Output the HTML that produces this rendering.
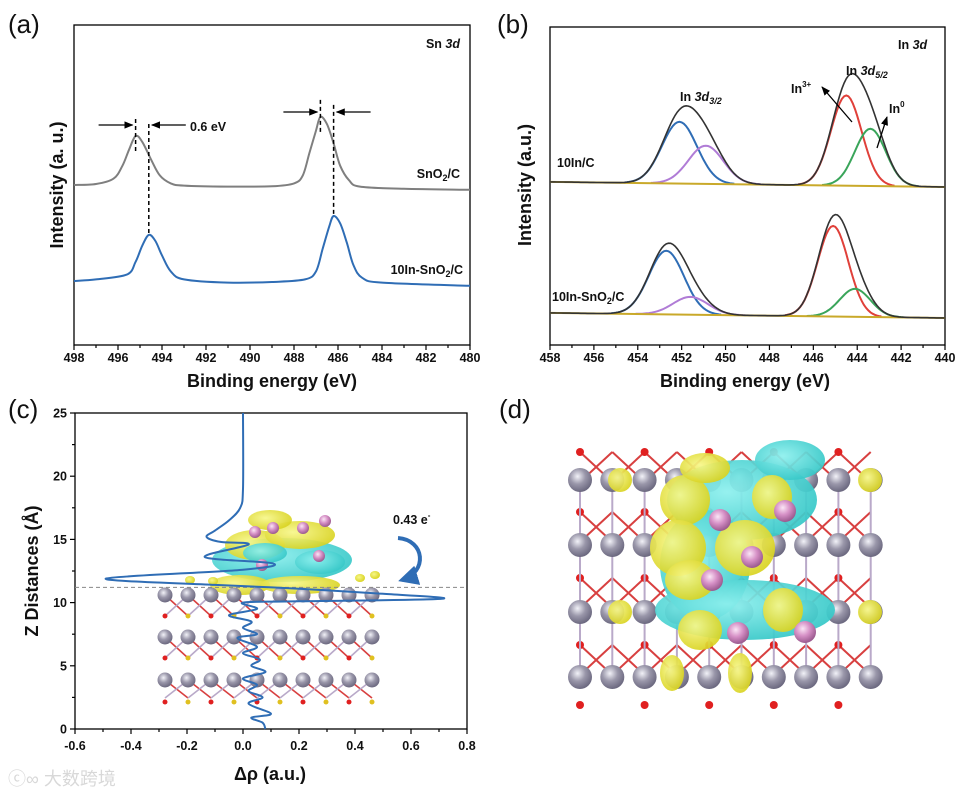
<!DOCTYPE html>
<html><head><meta charset="utf-8">
<style>
html,body{margin:0;padding:0;background:#fff;}
svg{display:block;font-family:"Liberation Sans",Arial,sans-serif;}
.tk{font-size:12.5px;font-weight:bold;fill:#111;}
.ttl{font-size:18px;font-weight:bold;fill:#111;}
.pl{font-size:26px;fill:#111;}
.an{font-size:12.5px;font-weight:bold;fill:#111;}
</style></head>
<body>
<svg id="fig" width="969" height="795" viewBox="0 0 969 795" xmlns="http://www.w3.org/2000/svg">
<defs>
<marker id="ah" viewBox="0 0 10 10" refX="9" refY="5" markerWidth="7" markerHeight="7" orient="auto"><path d="M0,1 L10,5 L0,9 Z" fill="#000"/></marker>
<marker id="ahb" viewBox="0 0 10 10" refX="8" refY="5" markerWidth="5" markerHeight="5" orient="auto"><path d="M0,0 L10,5 L0,10 Z" fill="#2f6db5"/></marker>
<radialGradient id="gAtom" cx="40%" cy="35%" r="65%"><stop offset="0" stop-color="#f2f2f8"/><stop offset="0.5" stop-color="#9a97aa"/><stop offset="1" stop-color="#6c6980"/></radialGradient>
<radialGradient id="pAtom" cx="40%" cy="35%" r="65%"><stop offset="0" stop-color="#fbe6f6"/><stop offset="0.5" stop-color="#d690c6"/><stop offset="1" stop-color="#9b5a8f"/></radialGradient>
<radialGradient id="cy" cx="40%" cy="40%" r="65%"><stop offset="0" stop-color="#8ef0ee"/><stop offset="1" stop-color="#35c7c7"/></radialGradient>
<radialGradient id="ye" cx="40%" cy="40%" r="65%"><stop offset="0" stop-color="#f7f78a"/><stop offset="1" stop-color="#d8d21e"/></radialGradient>
</defs>
<g id="pa"></g>
<g id="pb"></g>
<g id="pc"></g>
<g id="pd"></g>
<text x="8" y="785" style="font-size:18px;fill:#d8d8d8">ⓒ∞ 大数跨境</text>
</svg>
<script>
// ---------- Panel (a) data ----------
const aTicks = [498,496,494,492,490,488,486,484,482,480];
const aGrayE = [498,497,496.2,495.8,495.5,495.2,494.9,494.5,494.1,493.6,493,491,489,488,487.6,487.3,487,486.8,486.5,486.2,485.9,485.5,485,483,480];
const aGrayI = [50,50.3,52,56,61,65.3,63.5,58,53,50.5,49.8,49.5,49.6,50.5,53,60,67,71.3,69,63,56,51.5,49.5,48.8,48.5];
const aBlueE = [498,497,495.6,495.2,494.9,494.6,494.3,494,493.6,493,491,489,487.5,487,486.7,486.4,486.2,485.9,485.6,485.3,484.9,484,480];
const aBlueI = [20,20.5,22,26,31,34.4,32.5,28,23,20.5,19.5,19.7,20.5,23,30,37,40.3,38,32,25,21,19.5,18.5];
const aPeaksGray = [495.2,486.8];
const aPeaksBlue = [494.6,486.2];
// ---------- Panel (b) data ----------
const bTicks = [458,456,454,452,450,448,446,444,442,440];
const bUpperBase = [51.3,49.7];
const bLowerBase = [10.1,8.5];
const bUpperCenters = [452.1,450.9,444.5,443.4];
const bUpperHeights = [19.4,12,28.4,18];
const bUpperSigmas = [0.8,0.8,0.7,0.7];
const bLowerCenters = [452.7,451.6,445.1,444.1];
const bLowerHeights = [20,5.6,28.5,8.8];
const bLowerSigmas = [0.8,0.8,0.7,0.7];
const bColors = ['#2f6db5','#b07cd6','#e0403a','#3aa55a'];
// ---------- Panel (c) data ----------
const cXTicks = [-0.6,-0.4,-0.2,0.0,0.2,0.4,0.6,0.8];
const cYTicks = [0,5,10,15,20,25];
const cDrho = [0.0,0.0,-0.01,-0.05,-0.1,-0.13,-0.08,0.02,-0.136,0.107,0.0,-0.49,-0.1,0.2,0.5,0.71,0.2,0.0,0.05,-0.05,0.03,0.0,0.05,-0.02,0.05,0.0,0.06,0.03,0.08,0.0,0.05,0.02,0.07,0.02,0.1,0.03,0.07,0.08];
const cZ = [25,19,17.5,16.5,15.7,15.2,14.8,14.6,13.6,13.1,12.6,11.9,11.4,11.1,10.7,10.3,10.1,10.0,9.5,9,8.5,8,7.5,7.2,6.5,6,5.5,5,4.5,4,3.5,3,2.5,2,1.2,0.9,0.5,0];
const cSurfaceZ = 11.2;

const NS='http://www.w3.org/2000/svg';
function mk(parent,tag,attrs){const e=document.createElementNS(NS,tag);for(const k in attrs)e.setAttribute(k,attrs[k]);parent.appendChild(e);return e;}
function lin(d0,d1,r0,r1){return v=>r0+(v-d0)/(d1-d0)*(r1-r0);}
function gauss(x,c,h,s){return h*Math.exp(-(x-c)*(x-c)/(2*s*s));}
function smooth(P){let d='M'+P[0][0].toFixed(1)+','+P[0][1].toFixed(1);
  for(let i=0;i<P.length-1;i++){const p0=P[Math.max(0,i-1)],p1=P[i],p2=P[i+1],p3=P[Math.min(P.length-1,i+2)];
    d+=` C${(p1[0]+(p2[0]-p0[0])/6).toFixed(1)},${(p1[1]+(p2[1]-p0[1])/6).toFixed(1)} ${(p2[0]-(p3[0]-p1[0])/6).toFixed(1)},${(p2[1]-(p3[1]-p1[1])/6).toFixed(1)} ${p2[0].toFixed(1)},${p2[1].toFixed(1)}`;}
  return d;}

// ================= Panel A =================
(function(){
  const g=document.getElementById('pa');
  const X=lin(498,480,74,470), Y=lin(0,100,345,25);
  let t=mk(g,'text',{x:8,y:33,class:'pl'});t.textContent='(a)';
  
  let r=mk(g,'rect',{x:74,y:25,width:396,height:320,fill:'none',stroke:'#000','stroke-width':1.3});
  
  for(let v=498;v>=480;v--){const x=X(v);const maj=aTicks.includes(v);
    mk(g,'line',{x1:x,y1:345,x2:x,y2:345+(maj?5:3),stroke:'#000','stroke-width':1.2});}
  aTicks.forEach(v=>{const l=mk(g,'text',{x:X(v),y:362,class:'tk','text-anchor':'middle'});l.textContent=v;
    });
  t=mk(g,'text',{x:272,y:387,class:'ttl','text-anchor':'middle'});t.textContent='Binding energy (eV)';
  
  t=mk(g,'text',{x:63,y:185,class:'ttl','text-anchor':'middle',transform:'rotate(-90 63 185)'});t.textContent='Intensity (a. u.)';
  
  function curve(E,I,col,name){const P=E.map((e,i)=>[X(e),Y(I[i])]);
    const el=mk(g,'path',{d:smooth(P),fill:'none',stroke:col,'stroke-width':2,'stroke-linejoin':'round'});
    }
  curve(aGrayE,aGrayI,'#7f7f7f','sno2-c-spectrum');
  curve(aBlueE,aBlueI,'#2f6db5','10in-sno2-c-spectrum');
  const gp=aPeaksGray.map(e=>Y(aGrayI[aGrayE.indexOf(e)]));
  const bp=aPeaksBlue.map(e=>Y(aBlueI[aBlueE.indexOf(e)]));
  aPeaksGray.forEach((e,i)=>{const l=mk(g,'line',{x1:X(e),x2:X(e),y1:gp[i]-17,y2:gp[i]+17,stroke:'#000','stroke-width':1.5,'stroke-dasharray':'4,3'});
    });
  aPeaksBlue.forEach((e,i)=>{const l=mk(g,'line',{x1:X(e),x2:X(e),y1:gp[i]-12,y2:bp[i],stroke:'#000','stroke-width':1.5,'stroke-dasharray':'4,3'});
    });
  [[0,125],[1,112]].forEach(([i,y])=>{
    let a=mk(g,'line',{x1:X(aPeaksGray[i])-37,y1:y,x2:X(aPeaksGray[i])-3,y2:y,stroke:'#000','stroke-width':1.3,'marker-end':'url(#ah)'});
    
    a=mk(g,'line',{x1:X(aPeaksBlue[i])+37,y1:y,x2:X(aPeaksBlue[i])+3,y2:y,stroke:'#000','stroke-width':1.3,'marker-end':'url(#ah)'});
    });
  t=mk(g,'text',{x:190,y:131,class:'an'});t.textContent='0.6 eV';
  t=mk(g,'text',{x:460,y:48,class:'an','text-anchor':'end'});t.innerHTML='Sn <tspan font-style="italic">3d</tspan>';
  
  t=mk(g,'text',{x:460,y:178,class:'an','text-anchor':'end'});t.innerHTML='SnO<tspan font-size="9" dy="3">2</tspan><tspan dy="-3">/C</tspan>';
  
  t=mk(g,'text',{x:463,y:274,class:'an','text-anchor':'end'});t.innerHTML='10In-SnO<tspan font-size="9" dy="3">2</tspan><tspan dy="-3">/C</tspan>';
  
})();

// ================= Panel B =================
(function(){
  const g=document.getElementById('pb');
  const X=lin(458,440,550,945), Y=lin(0,100,345,27);
  let t=mk(g,'text',{x:497,y:33,class:'pl'});t.textContent='(b)';
  
  let r=mk(g,'rect',{x:550,y:27,width:395,height:318,fill:'none',stroke:'#000','stroke-width':1.3});
  
  for(let v=458;v>=440;v--){const x=X(v);const maj=bTicks.includes(v);
    mk(g,'line',{x1:x,y1:345,x2:x,y2:345+(maj?5:3),stroke:'#000','stroke-width':1.2});}
  bTicks.forEach(v=>{const l=mk(g,'text',{x:X(v),y:362,class:'tk','text-anchor':'middle'});l.textContent=v;
    });
  t=mk(g,'text',{x:745,y:387,class:'ttl','text-anchor':'middle'});t.textContent='Binding energy (eV)';
  
  t=mk(g,'text',{x:531,y:185,class:'ttl','text-anchor':'middle',transform:'rotate(-90 531 185)'});t.textContent='Intensity (a.u.)';
  
  const es=[];for(let e=458;e>=440-1e-9;e-=0.1)es.push(+e.toFixed(2));
  function spec(base,C,H,S,tag){
    const bl=e=>base[0]+(458-e)/18*(base[1]-base[0]);
    C.forEach((c,i)=>{
      const pts=es.filter(e=>Math.abs(e-c)<3.2*S[i]).map(e=>X(e).toFixed(1)+','+Y(bl(e)+gauss(e,c,H[i],S[i])).toFixed(1));
      const el=mk(g,'polyline',{points:pts.join(' '),fill:'none',stroke:bColors[i],'stroke-width':2});
      });
    let el=mk(g,'line',{x1:X(458),y1:Y(base[0]),x2:X(440),y2:Y(base[1]),stroke:'#c9a92a','stroke-width':2});
    
    const pts=es.map(e=>{let s=bl(e);C.forEach((c,i)=>s+=gauss(e,c,H[i],S[i]));return X(e).toFixed(1)+','+Y(s).toFixed(1);});
    el=mk(g,'polyline',{points:pts.join(' '),fill:'none',stroke:'#333','stroke-width':1.6});
    
  }
  spec(bUpperBase,bUpperCenters,bUpperHeights,bUpperSigmas,'10in-c');
  spec(bLowerBase,bLowerCenters,bLowerHeights,bLowerSigmas,'10in-sno2-c');
  const A=(x,y,txt,name,html)=>{const e=mk(g,'text',{x:x,y:y,class:'an'});if(html)e.innerHTML=txt;else e.textContent=txt;
    };
  A(898,49,'In <tspan font-style="italic">3d</tspan>','in3d-label',1);
  A(680,101,'In <tspan font-style="italic">3d</tspan><tspan font-size="9" dy="3" font-style="italic">3/2</tspan>','in3d32-label',1);
  A(846,75,'In <tspan font-style="italic">3d</tspan><tspan font-size="9" dy="3" font-style="italic">5/2</tspan>','in3d52-label',1);
  A(791,93,'In<tspan font-size="8" dy="-6">3+</tspan>','in3plus-label',1);
  A(889,113,'In<tspan font-size="8" dy="-6">0</tspan>','in0-label',1);
  A(557,167,'10In/C','legend-10in-c');
  A(552,301,'10In-SnO<tspan font-size="9" dy="3">2</tspan><tspan dy="-3">/C</tspan>','legend-10in-sno2-c-b',1);
  let a=mk(g,'line',{x1:852,y1:122,x2:822,y2:87,stroke:'#000','stroke-width':1.3,'marker-end':'url(#ah)'});
  
  a=mk(g,'line',{x1:877,y1:148,x2:887,y2:117,stroke:'#000','stroke-width':1.3,'marker-end':'url(#ah)'});
  
})();

// ================= Panel C =================
(function(){
  const g=document.getElementById('pc');
  const X=lin(-0.6,0.8,75,467), Y=lin(0,25,729,413);
  let t=mk(g,'text',{x:8,y:418,class:'pl'});t.textContent='(c)';
  
  const s=mk(g,'g',{});
  const rows=[595,637,680], cols=[];for(let i=0;i<10;i++)cols.push(165+i*23);
  for(let ri=0;ri<3;ri++){const y=rows[ri];
    cols.forEach((x,i)=>{ if(i<9){mk(s,'line',{x1:x,y1:y,x2:x+23,y2:y+(ri<2?21:18),stroke:'#d84040','stroke-width':1.6});
      mk(s,'line',{x1:x+23,y1:y,x2:x,y2:y+(ri<2?21:18),stroke:'#b9a9c9','stroke-width':1.6});}});}
  for(let ri=0;ri<3;ri++){const y=rows[ri];
    cols.forEach((x,i)=>{ if(i%2===0||i===9){mk(s,'circle',{cx:x,cy:y+2,r:3,fill:'#e02020'});}
      mk(s,'circle',{cx:x,cy:y+(ri===2?22:21),r:2.5,fill:i%2?'#e0c020':'#e02020'});});}
  [[282,560,70,22,'url(#cy)'],[255,545,30,15,'url(#ye)'],[300,535,35,14,'url(#ye)'],[270,520,22,10,'url(#ye)'],[320,562,25,12,'url(#cy)'],[240,585,30,10,'url(#ye)'],[300,585,40,9,'url(#ye)'],[265,553,22,10,'url(#cy)']].forEach(b=>{
    mk(s,'ellipse',{cx:b[0],cy:b[1],rx:b[2],ry:b[3],fill:b[4],opacity:0.92});});
  for(let ri=0;ri<3;ri++){cols.forEach(x=>mk(s,'circle',{cx:x,cy:rows[ri],r:7.5,fill:'url(#gAtom)'}));}
  [[255,532],[273,528],[303,528],[325,521],[319,556],[262,565]].forEach(p=>mk(s,'circle',{cx:p[0],cy:p[1],r:6,fill:'url(#pAtom)'}));
  [[190,580],[375,575],[213,581],[360,578]].forEach(p=>mk(s,'ellipse',{cx:p[0],cy:p[1],rx:5,ry:4,fill:'url(#ye)'}));
  let r=mk(g,'rect',{x:75,y:413,width:392,height:316,fill:'none',stroke:'#000','stroke-width':1.3});
  
  for(let v=-0.6;v<=0.8+1e-9;v+=0.1){const x=X(v);const maj=Math.abs(Math.round(v*10)%2)===0;
    mk(g,'line',{x1:x,y1:729,x2:x,y2:729+(maj?5:3),stroke:'#000','stroke-width':1.2});}
  for(let v=0;v<=25;v+=2.5){const y=Y(v);const maj=v%5===0;mk(g,'line',{x1:75,y1:y,x2:75-(maj?5:3),y2:y,stroke:'#000','stroke-width':1.2});}
  cXTicks.forEach(v=>{const l=mk(g,'text',{x:X(v),y:750,class:'tk','text-anchor':'middle'});l.textContent=v.toFixed(1);
    });
  cYTicks.forEach(v=>{const l=mk(g,'text',{x:67,y:Y(v)+4.5,class:'tk','text-anchor':'end'});l.textContent=v;
    });
  t=mk(g,'text',{x:270,y:780,class:'ttl','text-anchor':'middle'});t.textContent='Δρ (a.u.)';
  
  t=mk(g,'text',{x:38,y:571,class:'ttl','text-anchor':'middle',transform:'rotate(-90 38 571)'});t.textContent='Z Distances (Å)';
  
  let l=mk(g,'line',{x1:75,y1:Y(cSurfaceZ),x2:467,y2:Y(cSurfaceZ),stroke:'#888','stroke-width':1,'stroke-dasharray':'4,3'});
  
  const P=cDrho.map((d,i)=>[X(d),Y(cZ[i])]);
  const c=mk(g,'path',{d:smooth(P),fill:'none',stroke:'#2f6db5','stroke-width':2});
  
  t=mk(g,'text',{x:393,y:524,class:'an'});t.innerHTML='0.43 e<tspan font-size="8" dy="-6">-</tspan>';
  
  const ar=mk(g,'path',{d:'M398,538 C425,540 428,572 402,580',fill:'none',stroke:'#2f6db5','stroke-width':4,'marker-end':'url(#ahb)'});
  
})();

// ================= Panel D =================
(function(){
  const g=document.getElementById('pd');
  let t=mk(g,'text',{x:499,y:418,class:'pl'});t.textContent='(d)';
  
  const s=mk(g,'g',{});
  const rows=[480,545,612,677], cols=[];for(let i=0;i<10;i++)cols.push(580+i*32.3);
  const oRows=[452,512,578,645,705];
  oRows.forEach((y,ri)=>{cols.forEach((x,i)=>{if(i<9&&ri<4){
      mk(s,'line',{x1:x,y1:y,x2:x+32.3,y2:y+30,stroke:'#d84040','stroke-width':2});
      mk(s,'line',{x1:x+32.3,y1:y,x2:x,y2:y+30,stroke:'#d84040','stroke-width':2});}
    if(i%2===0)mk(s,'circle',{cx:x,cy:y,r:4,fill:'#e02020'});});});
  cols.forEach(x=>mk(s,'line',{x1:x,y1:480,x2:x,y2:677,stroke:'#b9a9c9','stroke-width':2}));
  rows.forEach(y=>cols.forEach(x=>mk(s,'circle',{cx:x,cy:y,r:12,fill:'url(#gAtom)'})));
  [[742,500,75,40,'url(#cy)'],[705,565,45,55,'url(#cy)'],[745,610,90,30,'url(#cy)'],[790,460,35,20,'url(#cy)'],
   [685,500,25,25,'url(#ye)'],[678,548,28,28,'url(#ye)'],[745,548,30,28,'url(#ye)'],[690,580,25,20,'url(#ye)'],
   [700,630,22,20,'url(#ye)'],[783,610,20,22,'url(#ye)'],[772,497,20,22,'url(#ye)'],[705,468,25,15,'url(#ye)'],
   [672,673,12,18,'url(#ye)'],[740,673,12,20,'url(#ye)'],[620,480,12,12,'url(#ye)'],[870,480,12,12,'url(#ye)'],[620,612,12,12,'url(#ye)'],[870,612,12,12,'url(#ye)']
  ].forEach(b=>mk(s,'ellipse',{cx:b[0],cy:b[1],rx:b[2],ry:b[3],fill:b[4],opacity:0.93}));
  [[720,520],[785,511],[712,580],[752,557],[738,633],[805,632]].forEach(p=>mk(s,'circle',{cx:p[0],cy:p[1],r:11,fill:'url(#pAtom)'}));
})();
</script>
</body></html>
